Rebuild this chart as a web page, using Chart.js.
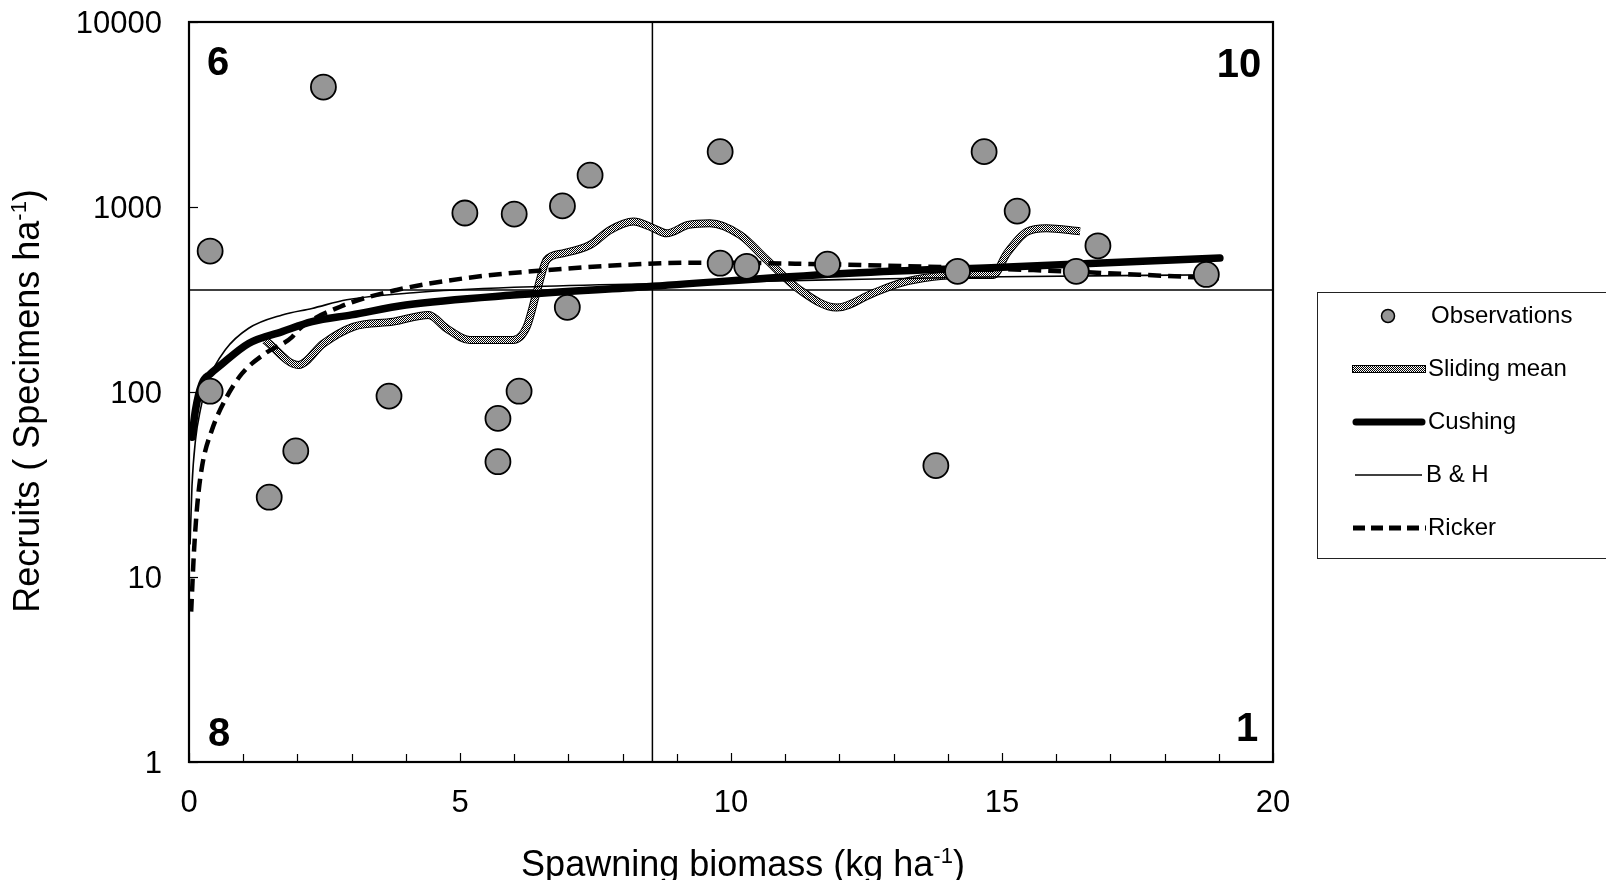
<!DOCTYPE html>
<html>
<head>
<meta charset="utf-8">
<title>Spawning biomass vs recruits</title>
<script src="https://cdn.jsdelivr.net/npm/chart.js@4.4.0/dist/chart.umd.min.js"></script>
<style>
  html, body { margin: 0; padding: 0; background: #fff; }
  #wrap { width: 1606px; height: 880px; }
</style>
</head>
<body>
<div id="wrap"><canvas id="srChart" width="1606" height="880"></canvas></div>
<script>
// observations: spawning biomass (kg/ha) and recruits (specimens/ha)
var obsBiomass  = [0.39, 0.39, 1.48, 1.97, 2.48, 3.69, 5.09, 5.70, 5.70, 6.00, 6.09, 6.89, 6.98,
                   7.40, 9.80, 9.80, 10.29, 11.78, 13.78, 14.18, 14.67, 15.28, 16.37, 16.77, 18.77];
var obsRecruits = [578, 101, 27, 48, 4450, 95, 928, 72, 42, 916, 101, 1014, 287,
                   1486, 1992, 497, 478, 491, 40, 449, 1992, 950, 449, 617, 432];

// sliding mean
var slideX = [1.40, 2.02, 2.48, 3.03, 3.77, 4.42, 4.75, 5.18, 5.98, 6.23, 6.41, 6.60, 6.90, 7.40, 7.77,
              8.20, 8.57, 8.81, 9.21, 9.61, 10.17, 10.66, 11.27, 11.95, 12.62, 13.12, 13.73, 14.35,
              14.84, 15.09, 15.46, 15.82, 16.44];
var slideY = [191, 140, 183, 225, 240, 261, 221, 191, 191, 225, 342, 518, 562, 624, 751,
              834, 768, 721, 800, 817, 706, 518, 356, 286, 342, 388, 420, 429,
              429, 562, 735, 768, 740];

// Cushing fit
var cushX = [0.055, 0.12, 0.24, 0.39, 0.55, 1.10, 1.72, 2.27, 3.00, 4.00, 5.98, 8.44, 12.0, 15.0, 19.02];
var cushY = [57, 80, 111, 125, 137, 183, 212, 240, 261, 295, 334, 371, 436, 473, 530];

// Beverton & Holt fit
var bhX = [0.02, 0.055, 0.12, 0.21, 0.36, 0.67, 1.10, 1.72, 2.27, 2.91, 4.14, 6.0, 8.5, 12.0, 15.0, 19.0];
var bhY = [15, 31, 55, 80, 116, 169, 221, 261, 283, 315, 344, 368, 385, 405, 420, 430];

// Ricker fit
var rickX = [0.04, 0.09, 0.15, 0.24, 0.42, 0.67, 0.98, 1.41, 1.90, 2.0, 2.79, 3.83, 5.06, 6.6, 8.75,
             9.43, 12.5, 15.58, 18.35, 19.0];
var rickY = [6.5, 13.4, 24, 39.5, 62, 91, 126, 162, 198, 215, 289, 356, 411, 456, 497,
             500, 485, 456, 420, 412];

// mean biomass / mean recruitment splitting the plot into quadrants
var meanBiomass = 8.55;
var meanRecruits = 356;
var vLineX = [meanBiomass, meanBiomass], vLineY = [1, 10000];
var hLineX = [0, 20], hLineY = [meanRecruits, meanRecruits];

var yTicks = [1, 10, 100, 1000, 10000];
var FONT = '"Liberation Sans", Arial, sans-serif';

function pts(xs, ys) {
  return xs.map(function (x, i) { return { x: x, y: ys[i] }; });
}

var canvas = document.getElementById('srChart');
var ctx0 = canvas.getContext('2d');

// fine black/white dither used for the sliding mean
function checker() {
  var c = document.createElement('canvas');
  c.width = 2; c.height = 2;
  var g = c.getContext('2d');
  g.fillStyle = '#fff'; g.fillRect(0, 0, 2, 2);
  g.fillStyle = '#000'; g.fillRect(0, 0, 1, 1); g.fillRect(1, 1, 1, 1);
  return ctx0.createPattern(c, 'repeat');
}
var dither = checker();

// how many observations fall in each quadrant
function quadrantCounts() {
  var q = { ul: 0, ur: 0, ll: 0, lr: 0 };
  obsBiomass.forEach(function (x, i) {
    var hi = obsRecruits[i] > meanRecruits;
    if (x < meanBiomass) { hi ? q.ul++ : q.ll++; } else { hi ? q.ur++ : q.lr++; }
  });
  return q;
}

function richText(ctx, parts, x, y, align) {
  var total = 0;
  parts.forEach(function (p) {
    ctx.font = p.size + 'px ' + FONT;
    p.w = ctx.measureText(p.t).width;
    total += p.w;
  });
  var cx = align === 'center' ? x - total / 2 : x;
  parts.forEach(function (p) {
    ctx.font = p.size + 'px ' + FONT;
    ctx.fillText(p.t, cx, y - (p.rise || 0));
    cx += p.w;
  });
}

var decorations = {
  id: 'decorations',
  afterDraw: function (chart) {
    var ctx = chart.ctx, a = chart.chartArea;
    var xs = chart.scales.x, ys = chart.scales.y;
    ctx.save();

    // inward tick marks
    ctx.strokeStyle = '#000';
    ctx.lineWidth = 1.2;
    xs.ticks.forEach(function (t) {
      var px = Math.round(xs.getPixelForValue(t.value)) + 0.5;
      var len = t.value % 5 === 0 ? 9 : 8;
      ctx.beginPath(); ctx.moveTo(px, a.bottom); ctx.lineTo(px, a.bottom - len); ctx.stroke();
    });
    ys.ticks.forEach(function (t) {
      var py = Math.round(ys.getPixelForValue(t.value)) + 0.5;
      ctx.beginPath(); ctx.moveTo(a.left, py); ctx.lineTo(a.left + 9, py); ctx.stroke();
    });

    // plot frame
    ctx.lineWidth = 2.2;
    ctx.strokeRect(a.left, a.top, a.right - a.left, a.bottom - a.top);

    // quadrant counts
    var q = quadrantCounts();
    ctx.fillStyle = '#000';
    ctx.font = 'bold 40px ' + FONT;
    ctx.textBaseline = 'middle';
    ctx.textAlign = 'center';
    ctx.fillText(String(q.ul), 218, 64);
    ctx.fillText(String(q.ur), 1239, 66);
    ctx.fillText(String(q.ll), 219, 735);
    ctx.fillText(String(q.lr), 1247, 730);

    // axis titles
    ctx.textBaseline = 'alphabetic';
    ctx.textAlign = 'left';
    richText(ctx, [
      { t: 'Spawning biomass (kg ha', size: 36 },
      { t: '-1', size: 22, rise: 13 },
      { t: ')', size: 36 }
    ], 743, 876, 'center');
    ctx.save();
    ctx.translate(39, 401);
    ctx.rotate(-Math.PI / 2);
    richText(ctx, [
      { t: 'Recruits ( Specimens ha', size: 36 },
      { t: '-1', size: 22, rise: 13 },
      { t: ')', size: 36 }
    ], 0, 0, 'center');
    ctx.restore();

    // legend
    ctx.lineWidth = 1;
    ctx.strokeStyle = '#222';
    ctx.strokeRect(1317.5, 292.5, 320, 266);
    var rows = [316, 369, 422, 475, 528];
    var names = chart.data.datasets.filter(function (d) { return !d.hideInLegend; })
      .map(function (d) { return d.label; });

    // observations marker
    ctx.beginPath();
    ctx.arc(1388, rows[0], 6.5, 0, Math.PI * 2);
    ctx.fillStyle = '#969696'; ctx.fill();
    ctx.strokeStyle = '#000'; ctx.lineWidth = 1.5; ctx.stroke();

    // sliding mean sample
    ctx.lineCap = 'butt';
    ctx.strokeStyle = '#000'; ctx.lineWidth = 8;
    ctx.beginPath(); ctx.moveTo(1352, rows[1]); ctx.lineTo(1426, rows[1]); ctx.stroke();
    ctx.strokeStyle = dither; ctx.lineWidth = 6;
    ctx.beginPath(); ctx.moveTo(1353, rows[1]); ctx.lineTo(1425, rows[1]); ctx.stroke();

    // cushing sample
    ctx.strokeStyle = '#000'; ctx.lineWidth = 7; ctx.lineCap = 'round';
    ctx.beginPath(); ctx.moveTo(1356, rows[2]); ctx.lineTo(1422, rows[2]); ctx.stroke();

    // B & H sample
    ctx.lineCap = 'butt'; ctx.lineWidth = 1.6;
    ctx.beginPath(); ctx.moveTo(1355, rows[3]); ctx.lineTo(1422, rows[3]); ctx.stroke();

    // Ricker sample
    ctx.lineWidth = 5; ctx.setLineDash([12, 6]);
    ctx.beginPath(); ctx.moveTo(1353, rows[4]); ctx.lineTo(1426, rows[4]); ctx.stroke();
    ctx.setLineDash([]);

    ctx.fillStyle = '#000';
    ctx.font = '24px ' + FONT;
    ctx.textBaseline = 'middle';
    ctx.textAlign = 'left';
    var textX = [1431, 1428, 1428, 1426, 1428];
    names.forEach(function (n, i) { ctx.fillText(n, textX[i], rows[i]); });

    ctx.restore();
  }
};

new Chart(canvas, {
  type: 'scatter',
  data: {
    datasets: [
      {
        label: 'Observations',
        data: pts(obsBiomass, obsRecruits),
        pointRadius: 12.5,
        pointBackgroundColor: '#969696',
        pointBorderColor: '#000',
        pointBorderWidth: 1.8,
        showLine: false,
        order: 0
      },
      {
        label: 'Sliding mean',
        data: pts(slideX, slideY),
        showLine: true,
        borderColor: dither,
        borderWidth: 6,
        pointRadius: 0,
        cubicInterpolationMode: 'monotone',
        order: 5
      },
      {
        label: 'Cushing',
        data: pts(cushX, cushY),
        showLine: true,
        borderColor: '#000',
        borderWidth: 7.5,
        borderCapStyle: 'round',
        pointRadius: 0,
        cubicInterpolationMode: 'monotone',
        order: 3
      },
      {
        label: 'B & H',
        data: pts(bhX, bhY),
        showLine: true,
        borderColor: '#000',
        borderWidth: 1.6,
        pointRadius: 0,
        cubicInterpolationMode: 'monotone',
        order: 2
      },
      {
        label: 'Ricker',
        data: pts(rickX, rickY),
        showLine: true,
        borderColor: '#000',
        borderWidth: 4.5,
        borderDash: [13, 7],
        pointRadius: 0,
        cubicInterpolationMode: 'monotone',
        order: 1
      },
      {
        label: 'sliding edge',
        hideInLegend: true,
        data: pts(slideX, slideY),
        showLine: true,
        borderColor: '#000',
        borderWidth: 8,
        pointRadius: 0,
        cubicInterpolationMode: 'monotone',
        order: 6
      },
      {
        label: 'mean biomass',
        hideInLegend: true,
        data: pts(vLineX, vLineY),
        showLine: true,
        borderColor: '#000',
        borderWidth: 1.5,
        pointRadius: 0,
        order: 7
      },
      {
        label: 'mean recruits',
        hideInLegend: true,
        data: pts(hLineX, hLineY),
        showLine: true,
        borderColor: '#000',
        borderWidth: 1.5,
        pointRadius: 0,
        order: 7
      }
    ]
  },
  options: {
    responsive: false,
    animation: false,
    devicePixelRatio: 1,
    events: [],
    layout: { autoPadding: false, padding: { left: 0, top: 22, right: 333, bottom: 0 } },
    plugins: {
      legend: { display: false },
      tooltip: { enabled: false }
    },
    scales: {
      x: {
        type: 'linear',
        min: 0,
        max: 20,
        grid: { display: false, drawTicks: false },
        border: { display: false },
        ticks: {
          stepSize: 1,
          autoSkip: false,
          maxRotation: 0,
          padding: 23,
          color: '#000',
          font: { family: FONT, size: 31 },
          callback: function (v) { return v % 5 === 0 ? String(v) : ''; }
        },
        afterFit: function (s) { s.height = 118; }
      },
      y: {
        type: 'logarithmic',
        min: 1,
        max: 10000,
        grid: { display: false, drawTicks: false },
        border: { display: false },
        afterBuildTicks: function (s) {
          s.ticks = yTicks.map(function (v) { return { value: v }; });
        },
        ticks: {
          padding: 27,
          labelOffset: 2,
          color: '#000',
          font: { family: FONT, size: 31 },
          callback: function (v) { return String(v); }
        },
        afterFit: function (s) {
          s.width = 189;
          s.paddingTop = 0;
          s.paddingBottom = 0;
        }
      }
    }
  },
  plugins: [decorations]
});
</script>
</body>
</html>
